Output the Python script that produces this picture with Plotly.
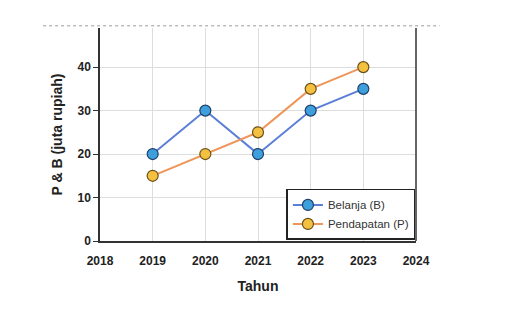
import plotly.graph_objects as go

years = [2019, 2020, 2021, 2022, 2023]
belanja = [20, 30, 20, 30, 35]
pendapatan = [15, 20, 25, 35, 40]
x_ticks = [2018, 2019, 2020, 2021, 2022, 2023, 2024]
y_ticks = [0, 10, 20, 30, 40]

fig = go.Figure()
fig.add_trace(go.Scatter(
    x=years, y=belanja, name="Belanja (B)", mode="lines+markers",
    line=dict(color="#5B7FD6", width=2),
    marker=dict(size=11, color="#3D9FDC", line=dict(color="#1F3F6A", width=1.2)),
))
fig.add_trace(go.Scatter(
    x=years, y=pendapatan, name="Pendapatan (P)", mode="lines+markers",
    line=dict(color="#EE955A", width=2),
    marker=dict(size=11, color="#F4C040", line=dict(color="#6A5018", width=1.2)),
))

font_family = "Liberation Sans, Arial, sans-serif"
fig.update_layout(
    width=517, height=331,
    margin=dict(l=100, r=101, t=28, b=90),
    paper_bgcolor="white", plot_bgcolor="white",
    font=dict(family=font_family, color="#222222", size=12),
    showlegend=True,
    legend=dict(
        x=0.59, y=0.005, xanchor="left", yanchor="bottom",
        bordercolor="#222222", borderwidth=1.5, bgcolor="white",
        font=dict(size=11.5, color="#333333"),
        itemwidth=30,
        tracegroupgap=2,
    ),
    xaxis=dict(
        range=[2018, 2024], tickvals=x_ticks,
        ticktext=[f"<b>{v}</b>" for v in x_ticks],
        showgrid=True, gridcolor="#DDDDDD", gridwidth=1,
        showline=True, linecolor="#333333", linewidth=1.5, mirror=False,
        zeroline=False, ticks="outside", ticklen=8, tickcolor="rgba(0,0,0,0)",
        tickfont=dict(size=12, color="#222222"),
        title=dict(text="<b>Tahun</b>", font=dict(size=14, color="#222222"), standoff=14),
    ),
    yaxis=dict(
        range=[0, 49], tickvals=y_ticks,
        ticktext=[f"<b>{v}</b>" for v in y_ticks],
        showgrid=True, gridcolor="#DDDDDD", gridwidth=1,
        showline=True, linecolor="#333333", linewidth=1.5,
        zeroline=False, ticks="outside", ticklen=5, tickcolor="#333333",
        tickfont=dict(size=12, color="#222222"),
        title=dict(text="<b>P & B (juta rupiah)</b>", font=dict(size=14, color="#222222"), standoff=12),
    ),
)

# right border line of plot area
fig.add_shape(type="line", xref="paper", yref="paper", x0=1, x1=1, y0=0, y1=1,
              line=dict(color="#333333", width=1.5))
# dotted top line from screenshot
fig.add_shape(type="line", xref="paper", yref="paper", x0=-0.18, x1=1.075, y0=1.01, y1=1.01,
              line=dict(color="#BBBBBB", width=1.5, dash="dot"))

fig.write_html("out.html")
